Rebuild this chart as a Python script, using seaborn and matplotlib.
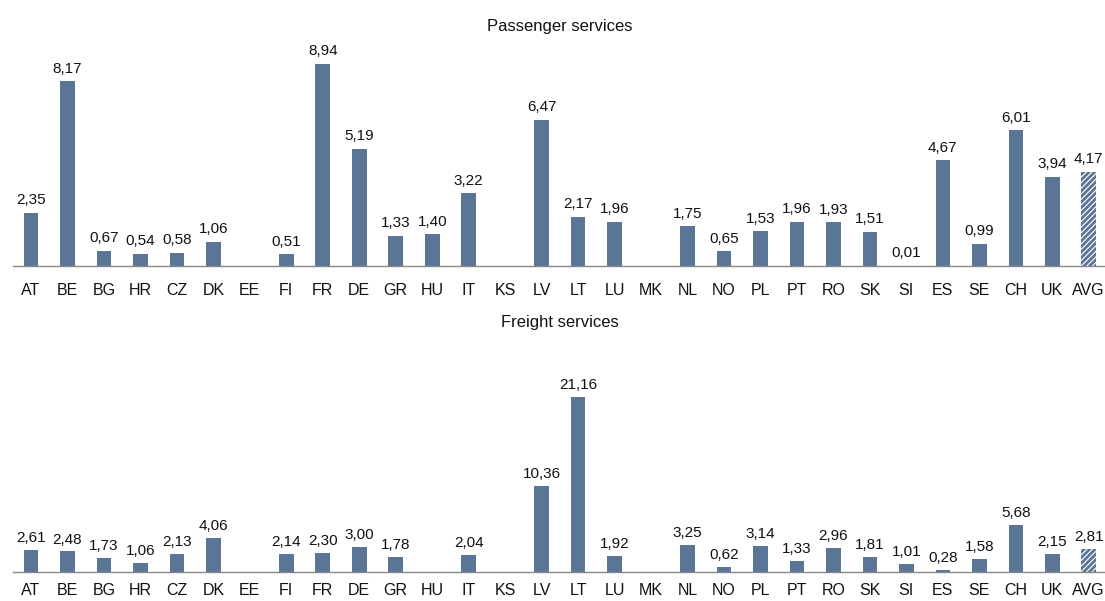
import numpy as np
import pandas as pd
import matplotlib
matplotlib.use("Agg")
import matplotlib.pyplot as plt
import seaborn as sns

categories = ["AT", "BE", "BG", "HR", "CZ", "DK", "EE", "FI", "FR", "DE", "GR", "HU", "IT", "KS", "LV",
              "LT", "LU", "MK", "NL", "NO", "PL", "PT", "RO", "SK", "SI", "ES", "SE", "CH", "UK", "AVG"]
nan = np.nan
passenger = [2.35, 8.17, 0.67, 0.54, 0.58, 1.06, nan, 0.51, 8.94, 5.19, 1.33, 1.40, 3.22, nan, 6.47,
             2.17, 1.96, nan, 1.75, 0.65, 1.53, 1.96, 1.93, 1.51, 0.01, 4.67, 0.99, 6.01, 3.94, 4.17]
freight = [2.61, 2.48, 1.73, 1.06, 2.13, 4.06, nan, 2.14, 2.30, 3.00, 1.78, nan, 2.04, nan, 10.36,
           21.16, 1.92, nan, 3.25, 0.62, 3.14, 1.33, 2.96, 1.81, 1.01, 0.28, 1.58, 5.68, 2.15, 2.81]
titles = ["Passenger services", "Freight services"]

sns.set_theme(style="white")
plt.rcParams['font.family'] = ['Liberation Sans', 'DejaVu Sans']

BAR = "#5a7596"
fig = plt.figure(figsize=(11.05, 6.01), dpi=100)
W, H = 1105, 601

def px_axes(left, right, base, top):
    return fig.add_axes([left / W, 1 - base / H, (right - left) / W, (base - top) / H])

ax1 = px_axes(12.75, 1107, 266, 40)
ax2 = px_axes(12.75, 1107, 572, 373.5)

def draw(ax, values, ymax, title, ty, pad):
    df = pd.DataFrame({"cat": categories, "val": values})
    sns.barplot(data=df, x="cat", y="val", order=categories, color=BAR, saturation=1,
                width=0.4, errorbar=None, ax=ax, linewidth=0)
    ax.set_xlim(-0.5, len(categories) - 0.5)
    ax.set_ylim(0, ymax)
    ax.set_xlabel("")
    ax.set_ylabel("")
    ax.set_yticks([])
    for s in ["top", "right", "left"]:
        ax.spines[s].set_visible(False)
    ax.spines["bottom"].set_color("#888888")
    ax.spines["bottom"].set_linewidth(1.0)
    ax.set_xticks(range(len(categories)))
    ax.set_xticklabels(categories, fontsize=11.5, color="#111111")
    ax.tick_params(axis="x", which="major", length=0, pad=pad)
    ax.set_xticks(np.arange(-0.5, len(categories) + 0.5, 1.0), minor=True)
    ax.tick_params(axis="x", which="minor", length=5, width=1, color="#888888", direction="out")
    for p in ax.patches:
        cx = p.get_x() + p.get_width() / 2
        i = int(round(cx))
        if i < 0 or i >= len(categories):
            continue
        v = values[i]
        if np.isnan(v):
            continue
        if categories[i] == "AVG":
            p.set_facecolor("white")
            p.set_edgecolor(BAR)
            p.set_hatch("//////")
            p.set_linewidth(0)
        ax.text(cx, v + ymax * 0.025, f"{v:.2f}".replace(".", ","), ha="center", va="bottom",
                fontsize=11, color="#111111")
    fig.text(0.5 * (12.75 + 1107) / W, 1 - ty / H, title, ha="center", va="center",
             fontsize=12, color="#111111")

plt.rcParams['hatch.linewidth'] = 2.0
draw(ax1, passenger, 10.0, titles[0], 27, 12)
draw(ax2, freight, 24.0, titles[1], 323, 8)

fig.savefig("out.png", dpi=100)
